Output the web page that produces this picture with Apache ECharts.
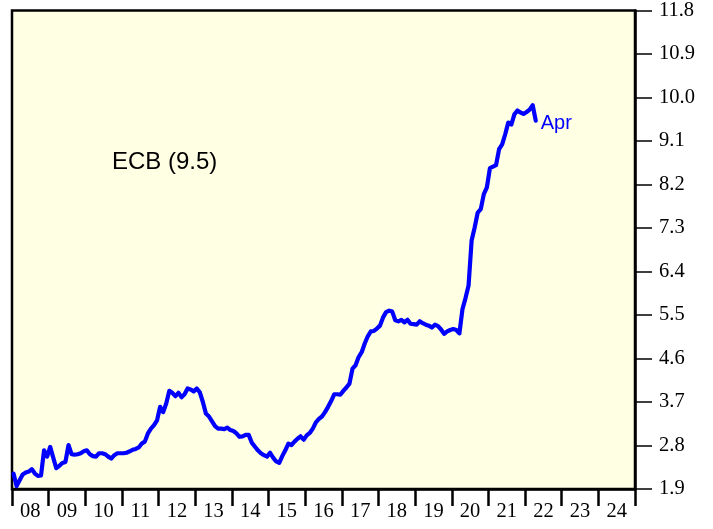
<!DOCTYPE html>
<html>
<head>
<meta charset="utf-8">
<script src="https://cdn.jsdelivr.net/npm/echarts@6/dist/echarts.min.js"></script>
<style>html,body{margin:0;padding:0;background:#fff;}#c{width:713px;height:529px;}</style>
</head>
<body>
<div id="c"></div>
<script>
// Year labels on the x axis
const yearLabels = ['08','09','10','11','12','13','14','15','16','17','18','19','20','21','22','23','24'];
// Right axis tick labels
const yTickLabels = ['1.9','2.8','3.7','4.6','5.5','6.4','7.3','8.2','9.1','10.0','10.9','11.8'];
// Monthly values, Jan 2008 .. Apr 2022
const startYear = 2008;
const values = [
  2.22,1.96,2.08,2.20,2.24,2.26,2.31,2.22,2.17,2.18,2.70,2.57,
  2.77,2.55,2.33,2.38,2.44,2.46,2.81,2.62,2.61,2.62,2.64,2.68,
  2.70,2.62,2.58,2.57,2.64,2.64,2.62,2.57,2.53,2.60,2.64,2.64,
  2.64,2.65,2.68,2.71,2.73,2.76,2.84,2.88,3.05,3.15,3.22,3.32,
  3.60,3.49,3.67,3.93,3.89,3.82,3.89,3.80,3.86,3.98,3.96,3.92,
  3.98,3.90,3.70,3.46,3.40,3.30,3.20,3.15,3.15,3.14,3.17,3.12,
  3.10,3.05,2.98,2.99,3.02,3.02,2.86,2.78,2.70,2.64,2.60,2.57,
  2.65,2.55,2.47,2.44,2.58,2.70,2.84,2.81,2.88,2.94,2.99,2.92,
  3.01,3.06,3.15,3.28,3.35,3.40,3.49,3.60,3.72,3.86,3.86,3.85,
  3.93,4.00,4.08,4.39,4.46,4.63,4.73,4.91,5.06,5.16,5.17,5.22,
  5.28,5.45,5.56,5.59,5.57,5.39,5.37,5.40,5.35,5.40,5.32,5.31,
  5.30,5.37,5.33,5.30,5.28,5.24,5.30,5.27,5.20,5.11,5.16,5.19,
  5.21,5.19,5.12,5.62,5.85,6.11,7.04,7.31,7.62,7.69,8.00,8.14,
  8.54,8.57,8.60,8.93,9.03,9.24,9.48,9.44,9.65,9.73,9.69,9.66,
  9.70,9.75,9.84,9.52
];
const seriesName = 'ECB (9.5)';
const lastLabel = 'Apr';

const lineData = values.map((v, i) => [startYear + (i + 0.5) / 12, v]);
const yTicks = yTickLabels.map(Number);

const chart = echarts.init(document.getElementById('c'));
chart.setOption({
  animation: false,
  grid: {
    left: 12, top: 9, right: 78, bottom: 40,
    show: true, backgroundColor: '#ffffe3', borderColor: '#000', borderWidth: 2.5
  },
  xAxis: [
    {
      type: 'category', data: yearLabels, position: 'bottom', boundaryGap: true,
      axisLine: { show: true, lineStyle: { color: '#000', width: 2.5 } },
      axisTick: { show: true, length: 17, lineStyle: { color: '#000', width: 2.5 } },
      axisLabel: { color: '#000', fontFamily: 'Liberation Serif', fontSize: 20.5, margin: 12 },
      splitLine: { show: false }
    },
    {
      type: 'value', min: startYear, max: startYear + yearLabels.length, show: false
    }
  ],
  yAxis: [
    {
      type: 'value', position: 'right', min: yTicks[0], max: yTicks[yTicks.length - 1],
      axisLine: { show: true, lineStyle: { color: '#000', width: 2.5 } },
      axisTick: { show: true, length: 17, customValues: yTicks, lineStyle: { color: '#000', width: 1.5 } },
      axisLabel: { color: '#000', fontFamily: 'Liberation Serif', fontSize: 20.5, margin: 24,
        customValues: yTicks, formatter: v => v.toFixed(1) },
      splitLine: { show: false }
    }
  ],
  graphic: [
    { type: 'text', left: 112, top: 150,
      style: { text: seriesName, fill: '#000', font: '24px "Liberation Sans"' } }
  ],
  series: [
    {
      type: 'line', name: seriesName, xAxisIndex: 1, yAxisIndex: 0,
      data: lineData, showSymbol: false, symbol: 'none',
      lineStyle: { color: '#0000ff', width: 4.2, cap: 'round', join: 'round' },
      endLabel: { show: true, formatter: lastLabel, color: '#0000ff', fontFamily: 'Liberation Sans', fontSize: 20, distance: 5, offset: [0, 3] }
    }
  ]
});
</script>
</body>
</html>
